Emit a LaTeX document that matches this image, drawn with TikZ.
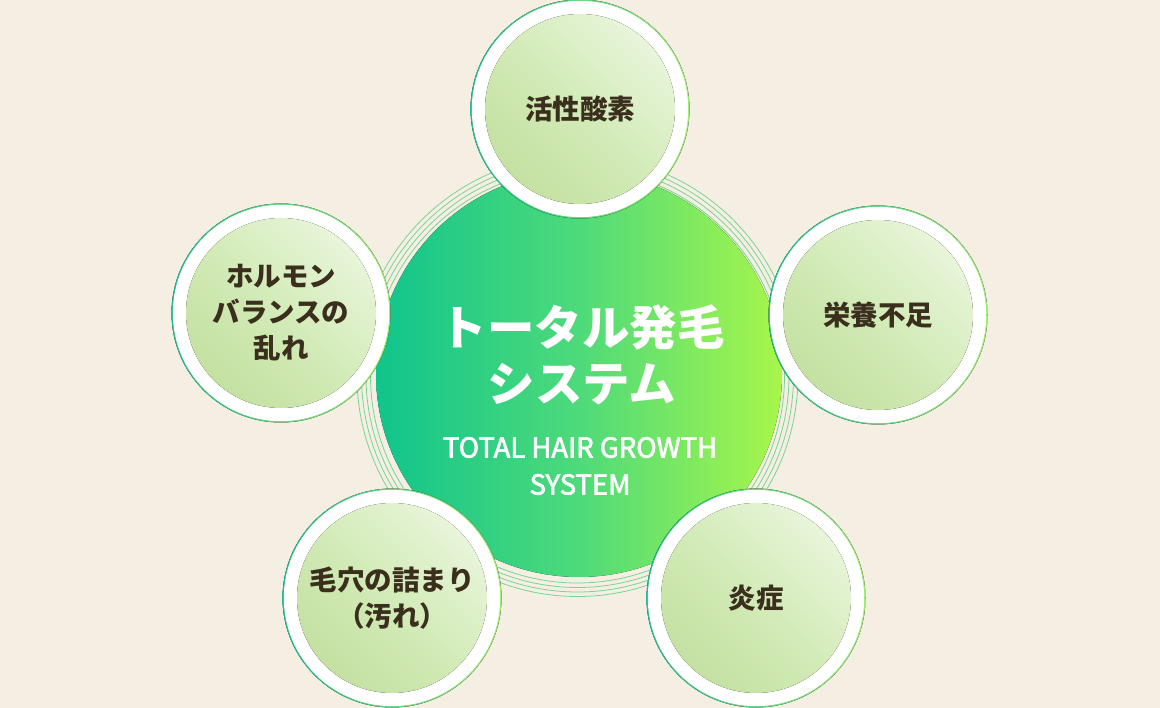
\documentclass[tikz,border=0pt]{standalone}
\usepackage{fontspec}
\newfontfamily\jp{Noto Sans CJK JP}
\newfontfamily\jpm{Noto Sans CJK JP}[FakeBold=2.4]
\definecolor{bg}{HTML}{F5EFE3}
\definecolor{ringc}{HTML}{78D495}
\definecolor{cl}{HTML}{10C48C}
\definecolor{cm}{HTML}{4EDA7A}
\definecolor{cr}{HTML}{A8F64A}
\definecolor{bl}{HTML}{1FBE8A}
\definecolor{br}{HTML}{9DE96C}
\definecolor{il}{HTML}{E8F5DA}
\definecolor{im}{HTML}{D3EBB8}
\definecolor{id}{HTML}{C4E1A2}
\definecolor{txt}{HTML}{3A2E1C}
\tikzset{
  ringline/.style={draw=ringc,line width=0.8pt},
  sattext/.style={text=txt,align=center,font=\jp\bfseries\fontsize{27.5}{36}\selectfont,inner sep=0pt},
  titletext/.style={text=white,align=center,font=\jp\bfseries\fontsize{47.5}{56}\selectfont,inner sep=0pt},
  subtext/.style={text=white,align=center,font=\jpm\fontsize{27.5}{37}\selectfont,inner sep=0pt}
}
\newcommand\satcircle[4]{%
  \fill[left color=bl,right color=br] (#2,#3) circle[radius=109.5pt];
  \fill[white] (#2,#3) circle[radius=108.2pt];
  \fill[top color=il,bottom color=id,middle color=im,shading angle=-45] (#2,#3) circle[radius=95pt];
  \node[sattext] (#1) at (#2,#3) {#4};
}
\begin{document}
\begin{tikzpicture}[x=1pt,y=-1pt]
\useasboundingbox (0,0) rectangle (1160,708);
\fill[bg] (0,0) rectangle (1160,708);
% decorative rings
\foreach \r in {207,211.5,216,220.5}{
  \draw[ringline] (577.5,376) circle[radius=\r pt];
}
% central circle
\fill[left color=cl,right color=cr,middle color=cm] (579,374) circle[radius=203pt];
\node[titletext] (title) at (582,355) {トータル発毛\\システム};
\node[subtext] (sub) at (580,466) {TOTAL HAIR GROWTH\\SYSTEM};
% satellites
\satcircle{top}{580}{109}{活性酸素}
\satcircle{right}{878}{315}{栄養不足}
\satcircle{left}{281}{313}{ホルモン\\バランスの\\乱れ}
\satcircle{bleft}{392}{598}{毛穴の詰まり\\（汚れ）}
\satcircle{bright}{756}{598}{炎症}
\end{tikzpicture}
\end{document}
